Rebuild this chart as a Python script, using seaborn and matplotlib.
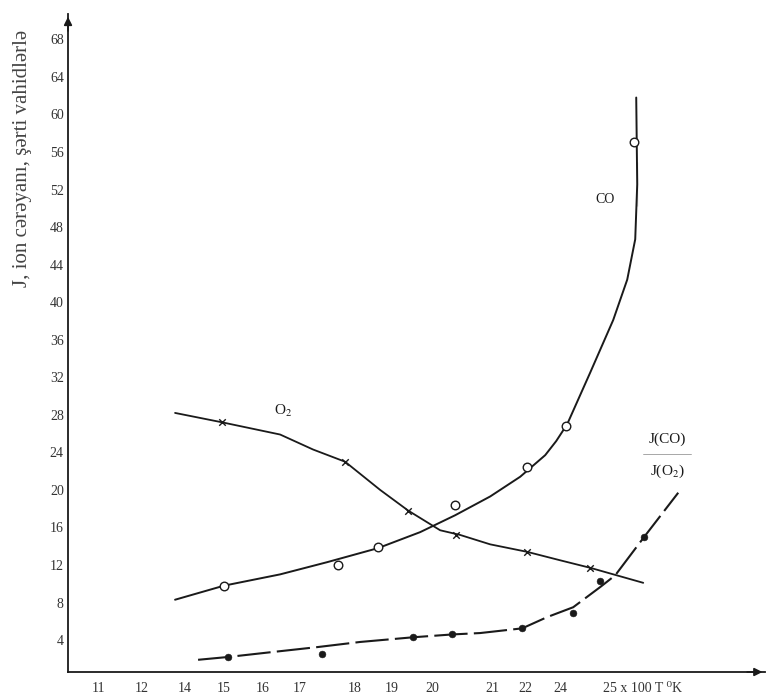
import seaborn as sns
import matplotlib.pyplot as plt

# x is the drawn position along the hand-made temperature axis (its scale is uneven)
x_tick_pos = [98, 142, 185, 224, 263, 300, 355, 392, 432, 492, 525, 560, 642]
x_tick_labels = ["11", "12", "14", "15", "16", "17", "18", "19", "20", "21", "22", "24",
                 "25 x 100 T \u2070K"]
y_ticks = list(range(4, 69, 4))

# CO ion current
co_line_x = [175, 224, 280, 327, 378, 420, 455, 490, 520, 545, 556, 567, 590, 613, 627, 635, 637, 637, 636]
co_line_y = [8.3, 9.8, 11.0, 12.3, 13.8, 15.5, 17.3, 19.3, 21.4, 23.7, 25.2, 27.0, 32.5, 38.1, 42.4, 46.7, 50.2, 54.9, 61.8]
co_pts_x = [224, 338, 378, 455, 527, 566, 634]
co_pts_y = [9.8, 12.0, 13.9, 18.4, 22.4, 26.8, 57.1]

# O2 ion current
o2_line_x = [175, 222, 280, 313, 345, 380, 408, 440, 460, 490, 527, 560, 590, 643]
o2_line_y = [28.2, 27.2, 25.9, 24.3, 23.0, 20.0, 17.8, 15.7, 15.2, 14.2, 13.4, 12.5, 11.7, 10.1]
o2_pts_x = [222, 345, 408, 456, 527, 590]
o2_pts_y = [27.2, 23.0, 17.8, 15.2, 13.4, 11.7]

# ratio J(CO)/J(O2)
ratio_line_x = [198, 228, 270, 317, 360, 413, 452, 480, 522, 547, 573, 600, 615, 644, 678]
ratio_line_y = [1.9, 2.2, 2.7, 3.25, 3.8, 4.3, 4.6, 4.75, 5.25, 6.45, 7.5, 9.65, 10.9, 15.0, 19.7]
ratio_pts_x = [228, 322, 413, 452, 522, 573, 600, 644]
ratio_pts_y = [2.2, 2.5, 4.3, 4.6, 5.25, 6.9, 10.3, 15.0]

sns.set_style("white")
plt.rcParams["font.family"] = ["Liberation Serif", "DejaVu Serif"]
plt.rcParams["mathtext.fontset"] = "stix"

ink = "#1a1a1a"
fig = plt.figure(figsize=(7.73, 7.0), dpi=100)
ax = fig.add_axes([0.088, 0.04, 0.902, 0.94])

sns.lineplot(x=co_line_x, y=co_line_y, sort=False, color=ink, lw=1.4, ax=ax)
sns.lineplot(x=o2_line_x, y=o2_line_y, sort=False, color=ink, lw=1.3, ax=ax)
sns.lineplot(x=ratio_line_x, y=ratio_line_y, sort=False, color=ink, lw=1.5, ax=ax)
ax.lines[-1].set_dashes((16, 3))

sns.scatterplot(x=co_pts_x, y=co_pts_y, marker="o", s=38, facecolor="white",
                edgecolor=ink, linewidth=1.0, zorder=3, ax=ax)
sns.scatterplot(x=o2_pts_x, y=o2_pts_y, marker="x", s=22, color=ink, linewidth=1.0,
                zorder=3, ax=ax)
sns.scatterplot(x=ratio_pts_x, y=ratio_pts_y, marker="o", s=24, color=ink,
                edgecolor=ink, zorder=3, ax=ax)

ax.set_xlim(68, 765)
ax.set_ylim(0.6, 70.7)
ax.set_xticks(x_tick_pos)
ax.set_xticklabels(x_tick_labels)
ax.set_yticks(y_ticks)
ax.tick_params(axis="both", length=0, labelsize=10, colors="#333333")
ax.tick_params(axis="x", pad=7)
ax.tick_params(axis="y", pad=3)
ax.set_ylabel("J, ion cərəyanı, şərti vahidlərlə", fontsize=15, color="#444444")
ax.yaxis.set_label_coords(-0.052, 0.78)

sns.despine(ax=ax)
for side in ["left", "bottom"]:
    ax.spines[side].set_linewidth(1.3)
    ax.spines[side].set_color(ink)

# axis arrows
ax.annotate("", xy=(1.0, 0), xytext=(0.97, 0), xycoords="axes fraction",
            arrowprops=dict(arrowstyle="-|>", color=ink, lw=1.2, mutation_scale=12))
ax.annotate("", xy=(0, 1.0), xytext=(0, 0.97), xycoords="axes fraction",
            arrowprops=dict(arrowstyle="-|>", color=ink, lw=1.2, mutation_scale=12))

ax.text(605, 50.9, "CO", fontsize=10, color=ink, ha="center", va="center")
ax.text(283, 28.4, "O$_2$", fontsize=11, color=ink, ha="center", va="center")
ax.text(667, 25.4, "J(CO)", fontsize=11, color=ink, ha="center", va="center")
ax.plot([643, 691], [23.8, 23.8], color="#999999", lw=0.6)
ax.text(667, 22.0, "J(O$_2$)", fontsize=11, color=ink, ha="center", va="center")

fig.savefig("out.png", dpi=100)
